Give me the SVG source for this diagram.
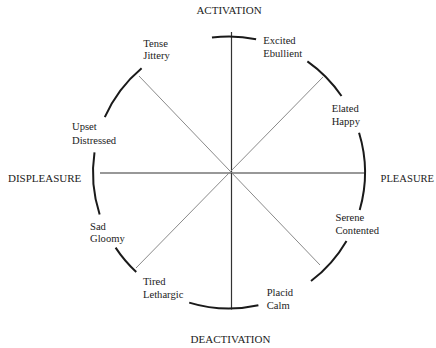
<svg xmlns="http://www.w3.org/2000/svg" width="436" height="348" viewBox="0 0 436 348">
<style>
.axis{font-family:"Liberation Serif","Times New Roman",serif;font-size:11px;fill:#222}
.lbl{font-family:"Liberation Serif","Times New Roman",serif;font-size:10.6px;fill:#222}
.arc{fill:none;stroke:#1a1a1a;stroke-width:2}
.main{stroke:#333;stroke-width:1.2;fill:none}
.diag{stroke:#8a8a8a;stroke-width:1;fill:none}
</style>
<rect width="436" height="348" fill="#fff"/>
<g id="connectors">
<path class="main" d="M231.5,32 V309.5"/>
<path class="main" d="M100,173 H364"/>
<path class="diag" d="M139,76 L320,265"/>
<path class="diag" d="M323,77 L136,268"/>
</g>
<g id="arcs">
<path class="arc" d="M211.96,37.57 A136,136 0 0 1 256.1,39.2"/>
<path class="arc" d="M307.4,61.4 A136,136 0 0 1 341.5,96.05"/>
<path class="arc" d="M359.06,132.73 A136,136 0 0 1 359.7,210"/>
<path class="arc" d="M346.5,240.9 A136,136 0 0 1 311,281"/>
<path class="arc" d="M258.4,305.3 A136,136 0 0 1 189.2,302.6"/>
<path class="arc" d="M136.25,271.97 A136,136 0 0 1 115.6,247.6"/>
<path class="arc" d="M99.65,214.5 A136,136 0 0 1 94.5,152.4"/>
<path class="arc" d="M104.8,117.2 A136,136 0 0 1 141.6,68.3"/>
</g>
<g id="activation"><text class="axis" x="229" y="14" text-anchor="middle">ACTIVATION</text></g>
<g id="deactivation"><text class="axis" x="230.5" y="343" text-anchor="middle">DEACTIVATION</text></g>
<g id="displeasure"><text class="axis" x="8" y="181.5">DISPLEASURE</text></g>
<g id="pleasure"><text class="axis" x="380.5" y="181.5" style="font-size:10.6px">PLEASURE</text></g>
<g id="excited"><text class="lbl" x="263.3" y="43.5">Excited</text><text class="lbl" x="263.3" y="56.5">Ebullient</text></g>
<g id="elated"><text class="lbl" x="331.7" y="111.5">Elated</text><text class="lbl" x="331.7" y="125">Happy</text></g>
<g id="serene"><text class="lbl" x="335.5" y="220.5">Serene</text><text class="lbl" x="335.5" y="233.5">Contented</text></g>
<g id="placid"><text class="lbl" x="266.7" y="296">Placid</text><text class="lbl" x="266.7" y="309">Calm</text></g>
<g id="tired"><text class="lbl" x="143" y="284.5">Tired</text><text class="lbl" x="143" y="297.5">Lethargic</text></g>
<g id="sad"><text class="lbl" x="90" y="229.5">Sad</text><text class="lbl" x="90" y="242">Gloomy</text></g>
<g id="upset"><text class="lbl" x="72" y="130">Upset</text><text class="lbl" x="72" y="144">Distressed</text></g>
<g id="tense"><text class="lbl" x="143.3" y="46.5">Tense</text><text class="lbl" x="143.3" y="59">Jittery</text></g>
</svg>
